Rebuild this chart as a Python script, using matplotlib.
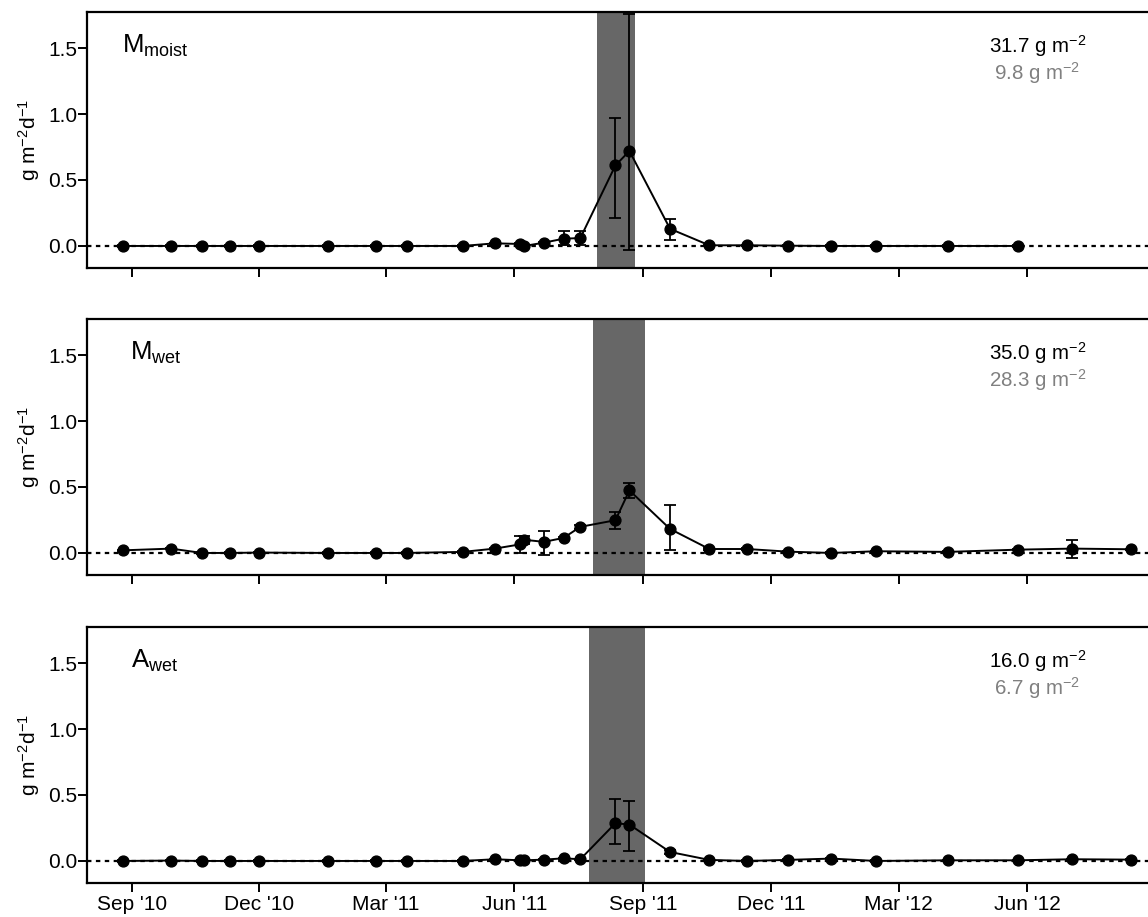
import numpy as np
import pandas as pd
import matplotlib
matplotlib.use("Agg")
import matplotlib.pyplot as plt
import matplotlib.dates as mdates

plt.rcParams['font.family'] = ['Liberation Sans', 'DejaVu Sans']
plt.rcParams['mathtext.fontset'] = 'custom'
plt.rcParams['mathtext.rm'] = 'Liberation Sans'
plt.rcParams['mathtext.default'] = 'regular'

# sampling dates
dates = ['2010-08-26', '2010-09-29', '2010-10-21', '2010-11-10', '2010-12-01',
         '2011-01-19', '2011-02-22', '2011-03-16', '2011-04-25', '2011-05-18',
         '2011-06-05', '2011-06-08', '2011-06-22', '2011-07-06', '2011-07-18',
         '2011-08-12', '2011-08-22', '2011-09-20', '2011-10-18', '2011-11-14',
         '2011-12-13', '2012-01-13', '2012-02-14', '2012-04-05', '2012-05-25',
         '2012-07-03', '2012-08-14']

# M moist (no last two samples)
mmoist = [0, 0, 0, 0, 0, 0, 0, 0, 0, 0.02, 0.015, 0.0, 0.025, 0.055, 0.06,
          0.61, 0.72, 0.13, 0.005, 0.005, 0.002, 0, 0, 0, 0]
mmoist_lo = [0.005] * 13 + [0.05, 0.05, 0.40, 0.75, 0.085] + [0.005] * 7
mmoist_hi = [0.005] * 13 + [0.055, 0.05, 0.36, 1.035, 0.075] + [0.005] * 7

# M wet
mwet = [0.02, 0.033, 0.0, 0.0, 0.003, 0.0, 0.0, 0.0, 0.008, 0.033, 0.065, 0.10,
        0.084, 0.114, 0.198, 0.248, 0.474, 0.182, 0.03, 0.03, 0.01, 0.0, 0.013,
        0.008, 0.025, 0.033, 0.028]
mwet_lo = [0.005] * 10 + [0.065, 0.03, 0.10, 0.01, 0.015, 0.066, 0.056, 0.16] + [0.005] * 7 + [0.068, 0.005]
mwet_hi = [0.005] * 10 + [0.065, 0.03, 0.08, 0.01, 0.015, 0.064, 0.058, 0.18] + [0.005] * 7 + [0.067, 0.005]

# A wet
awet = [0, 0.003, 0, 0, 0, 0, 0, 0, 0, 0.013, 0.005, 0.005, 0.01, 0.02, 0.013,
        0.286, 0.276, 0.068, 0.008, 0, 0.008, 0.018, 0, 0.005, 0.005, 0.013, 0.01]
awet_lo = [0.005] * 15 + [0.16, 0.203, 0.015] + [0.005] * 9
awet_hi = [0.005] * 15 + [0.183, 0.177, 0.015] + [0.005] * 9

labels = ['M$_{moist}$', 'M$_{wet}$', 'A$_{wet}$']
totals = ['31.7 g m$^{-2}$', '35.0 g m$^{-2}$', '16.0 g m$^{-2}$']
totals2 = ['9.8 g m$^{-2}$', '28.3 g m$^{-2}$', '6.7 g m$^{-2}$']
shade = [('2011-07-30', '2011-08-26'), ('2011-07-27', '2011-09-02'), ('2011-07-24', '2011-09-02')]

tick_dates = ['2010-09-01', '2010-12-01', '2011-03-01', '2011-06-01',
              '2011-09-01', '2011-12-01', '2012-03-01', '2012-06-01']
tick_labels = ["Sep '10", "Dec '10", "Mar '11", "Jun '11",
               "Sep '11", "Dec '11", "Mar '12", "Jun '12"]

series = [(mmoist, mmoist_lo, mmoist_hi), (mwet, mwet_lo, mwet_hi), (awet, awet_lo, awet_hi)]

d = pd.to_datetime(dates)
td = pd.to_datetime(tick_dates)

fig = plt.figure(figsize=(11.48, 9.17), dpi=100)
W, H = 1148, 917
tops = [12, 319, 627]
lbl_x = [0.033, 0.040, 0.041]

for i, (vals, lo, hi) in enumerate(series):
    top = tops[i]
    ax = fig.add_axes([87 / W, 1 - (top + 256) / H, 1068 / W, 256 / H])
    n = len(vals)
    x = d[:n]
    ax.axvspan(pd.Timestamp(shade[i][0]), pd.Timestamp(shade[i][1]),
               color='#676767', lw=0, zorder=0)
    ax.axhline(0, color='black', lw=1.6, ls=(0, (2, 2)), zorder=1)
    ax.errorbar(x, vals, yerr=[lo, hi], fmt='none', ecolor='black',
                elinewidth=1.3, capsize=4, capthick=1.3, zorder=2)
    ax.plot(x, vals, '-o', color='black', lw=1.4, ms=7.8, zorder=3)

    ax.set_xlim(pd.Timestamp('2010-07-31'), pd.Timestamp('2012-08-31'))
    ax.set_ylim(-0.167, 1.773)
    ax.set_yticks([0, 0.5, 1.0, 1.5])
    ax.set_yticklabels(['0.0', '0.5', '1.0', '1.5'])
    ax.set_xticks(td)
    if i == 2:
        ax.set_xticklabels(tick_labels)
    else:
        ax.set_xticklabels([])
    ax.tick_params(direction='out', length=6.5, width=1.4, labelsize=15)
    ax.tick_params(axis='x', pad=2.5)
    ax.tick_params(axis='y', pad=0.5)
    for s in ax.spines.values():
        s.set_linewidth(1.6)
    ax.set_ylabel('g m$^{-2}$d$^{-1}$', fontsize=15, labelpad=4.5)

    ax.text(lbl_x[i], 0.84, labels[i], transform=ax.transAxes, fontsize=18.5,
            ha='left', va='baseline')
    ax.text(0.89, 0.84, totals[i], transform=ax.transAxes, fontsize=14.8,
            ha='center', va='baseline', color='black')
    ax.text(0.89, 0.734, totals2[i], transform=ax.transAxes, fontsize=14.8,
            ha='center', va='baseline', color='#808080')

fig.savefig('out.png', dpi=100)
